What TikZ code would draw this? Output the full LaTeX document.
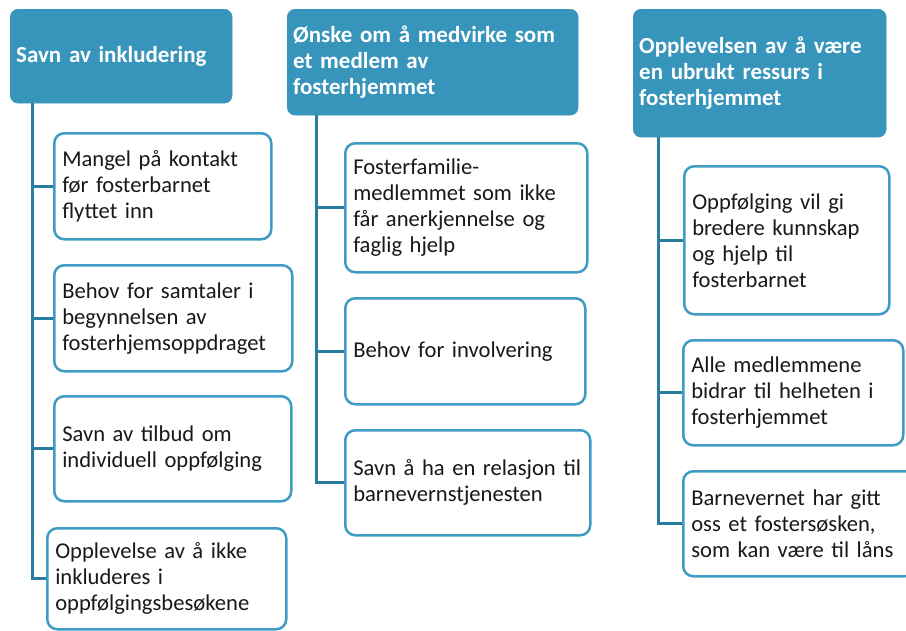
\documentclass[tikz,border=0pt]{standalone}
\usepackage{fontspec}
\setmainfont{Carlito}
\usepackage{xcolor}

\definecolor{headfill}{RGB}{55,149,188}
\definecolor{boxline}{RGB}{62,156,196}
\definecolor{trunkline}{RGB}{40,125,160}

\begin{document}
\begin{tikzpicture}[x=1pt,y=-1pt,
		head/.style={draw=headfill,fill=headfill,rounded corners=8pt,anchor=north west,
			align=left,inner xsep=6pt,text=white,font=\fontsize{23}{26}\selectfont\bfseries},
		item/.style={draw=boxline,fill=white,line width=2.5pt,rounded corners=10pt,anchor=north west,
			align=left,inner xsep=8pt,text=black!90,font=\fontsize{22.6}{26}\selectfont},
		link/.style={draw=trunkline,line width=3pt}]
	\useasboundingbox (0,0) rectangle (906,630);

	% overskrifter
	\node[head,text width=210pt,minimum height=94pt] (h1) at (10,9) {Savn av inkludering};
	\node[head,text width=279pt,minimum height=106pt] (h2) at (287,9)
		{Ønske om å medvirke som\\et medlem av\\fosterhjemmet};
	\node[head,text width=241pt,minimum height=128pt] (h3) at (633,9)
		{Opplevelsen av å være\\en ubrukt ressurs i\\fosterhjemmet};

	\coordinate (t1) at (32,103);
	\coordinate (t2) at (316,115);
	\coordinate (t3) at (658,137);

	% kolonne 1
	\node[item,text width=201pt,minimum height=106pt] (c1a) at (53,132)
		{Mangel på kontakt\\før fosterbarnet\\flyttet inn};
	\node[item,text width=222pt,minimum height=106pt] (c1b) at (53,264)
		{Behov for samtaler i\\begynnelsen av\\fosterhjemsoppdraget};
	\node[item,text width=221pt,minimum height=105pt] (c1c) at (53,395)
		{Savn av tilbud om\\individuell oppfølging};
	\node[item,text width=223pt,minimum height=101pt] (c1d) at (46,527)
		{Opplevelse av å ikke\\inkluderes i\\oppfølgingsbesøkene};

	% kolonne 2
	\node[item,text width=226pt,minimum height=129pt] (c2a) at (344,142)
		{Fosterfamilie-\\medlemmet som ikke\\får anerkjennelse og\\faglig hjelp};
	\node[item,text width=224pt,minimum height=106pt] (c2b) at (344,297)
		{Behov for involvering};
	\node[item,text width=229pt,minimum height=105pt] (c2c) at (344,429)
		{\mbox{Savn å ha en relasjon til}\\barnevernstjenesten};

	% kolonne 3
	\node[item,text width=189pt,minimum height=148pt] (c3a) at (683,165)
		{Oppfølging vil gi\\bredere kunnskap\\og hjelp til\\fosterbarnet};
	\node[item,text width=204pt,minimum height=105pt] (c3b) at (682,339)
		{Alle medlemmene\\bidrar til helheten i\\fosterhjemmet};
	\node[item,text width=216pt,minimum height=105pt] (c3c) at (682,470)
		{Barnevernet har gitt\\oss et fostersøsken,\\som kan være til låns};

	% linjer
	\draw[link] (t1) |- (c1d.west);
	\foreach \c in {c1a,c1b,c1c}
		\draw[link] (t1 |- \c.west) -- (\c.west);
	\draw[link] (t2) |- (c2c.west);
	\foreach \c in {c2a,c2b}
		\draw[link] (t2 |- \c.west) -- (\c.west);
	\draw[link] (t3) |- (c3c.west);
	\foreach \c in {c3a,c3b}
		\draw[link] (t3 |- \c.west) -- (\c.west);
\end{tikzpicture}
\end{document}
